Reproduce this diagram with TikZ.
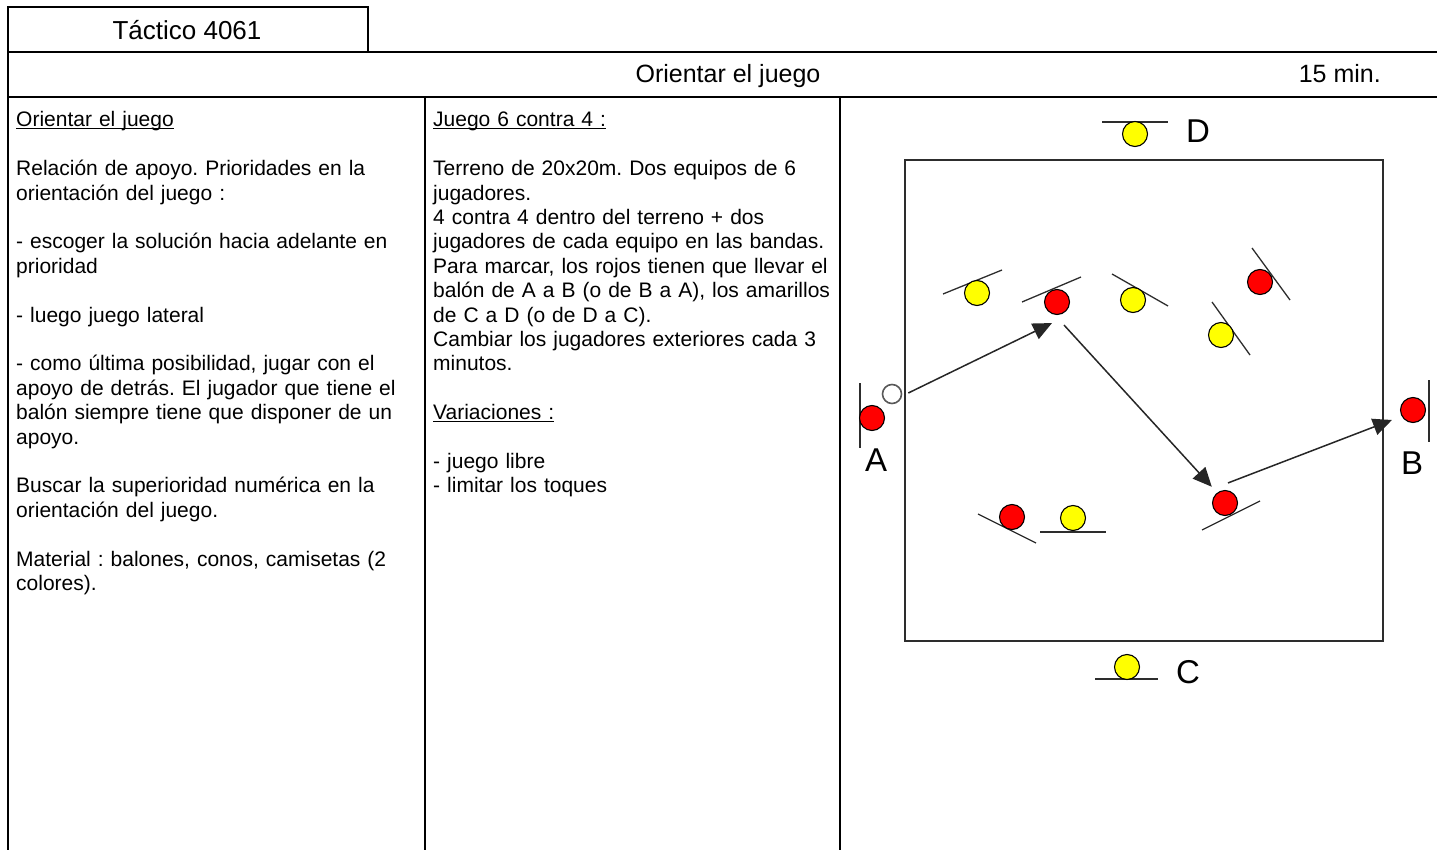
\documentclass[tikz,border=0pt]{standalone}
\usepackage{fontspec}
\setmainfont{Liberation Sans}
\usetikzlibrary{arrows.meta,positioning}
\definecolor{rojo}{RGB}{255,0,0}
\definecolor{amarillo}{RGB}{255,255,0}
\definecolor{campo}{RGB}{45,45,45}
\newcommand\subrayado[1]{\leavevmode\setbox0\hbox{#1}\rlap{\rule[-2.5pt]{\wd0}{1.2pt}}\box0}
\frenchspacing

\begin{document}
\begin{tikzpicture}[x=1pt,y=-1pt,
    marco/.style={line width=2pt,black},
    texto/.style={anchor=base west,inner sep=0pt,align=left,text width=405pt,font=\fontsize{21}{24.4}\selectfont},
    jugador/.style={circle,draw=black,line width=1.1pt,minimum size=25pt,inner sep=0pt},
    orient/.style={line width=1.3pt,campo},
    pase/.style={line width=1.5pt,black!85,-{Triangle[length=19pt,width=17pt]}},
    letra/.style={inner sep=0pt,font=\fontsize{33}{33}\selectfont}]
    \useasboundingbox (0,0) rectangle (1437,850);

    % Frame
    \draw[marco] (8,850) -- (8,7) -- (368,7) -- (368,52);
    \draw[marco] (8,52) -- (1437,52);
    \draw[marco] (8,97) -- (1437,97);
    \draw[marco] (425,97) -- (425,850);
    \draw[marco] (840,97) -- (840,850);

    % Headings
    \node[anchor=base,inner sep=0pt,font=\fontsize{26}{30}\selectfont] (titulo) at (187,40) {Táctico 4061};
    \node[anchor=base,inner sep=0pt,font=\fontsize{25}{30}\selectfont] (tema) at (728,83) {Orientar el juego};
    \node[anchor=base east,inner sep=0pt,font=\fontsize{25}{30}\selectfont] (duracion) at (1381,83) {15 min.};

    % Text columns
    \node[texto] (objetivo) at (16,127) {\subrayado{Orientar el juego}\\[24.4pt]
        Relación de apoyo. Prioridades en la\\
        orientación del juego :\\[24.4pt]
        - escoger la solución hacia adelante en\\
        prioridad\\[24.4pt]
        - luego juego lateral\\[24.4pt]
        - como última posibilidad, jugar con el\\
        apoyo de detrás. El jugador que tiene el\\
        balón siempre tiene que disponer de un\\
        apoyo.\\[24.4pt]
        Buscar la superioridad numérica en la\\
        orientación del juego.\\[24.4pt]
        Material : balones, conos, camisetas (2\\
        colores).};
    \node[texto] (juego) at (433,127) {\subrayado{Juego 6 contra 4 :}\\[24.4pt]
        Terreno de 20x20m. Dos equipos de 6\\
        jugadores.\\
        4 contra 4 dentro del terreno + dos\\
        jugadores de cada equipo en las bandas.\\
        Para marcar, los rojos tienen que llevar el\\
        balón de A a B (o de B a A), los amarillos\\
        de C a D (o de D a C).\\
        Cambiar los jugadores exteriores cada 3\\
        minutos.\\[24.4pt]
        \subrayado{Variaciones :}\\[24.4pt]
        - juego libre\\
        - limitar los toques};

    % Field
    \draw[line width=2pt,campo] (905,160) rectangle (1383,641);

    % Players with body orientation
    \foreach \n/\px/\py/\c/\ax/\ay/\bx/\by in {
        pD/1135/134/amarillo/1102/122/1168/122,
        pA1/977/293/amarillo/943/294/1002/270,
        pR1/1057/302/rojo/1022/302/1081/277,
        pA2/1133/300/amarillo/1112/274/1168/306,
        pR2/1260/282/rojo/1252/248/1290/300,
        pA3/1221/335/amarillo/1212/302/1250/355,
        pR3/1225/503/rojo/1202/530/1260/501,
        pR4/1012/517/rojo/978/514/1036/543,
        pA4/1073/518/amarillo/1040/532/1106/532,
        pC/1127/667/amarillo/1095/679/1158/679,
        pRA/872/418/rojo/860/383/860/448,
        pRB/1413/410/rojo/1429/380/1429/442}
    {
        \draw[orient] (\ax,\ay) -- (\bx,\by);
        \node[jugador,fill=\c] (\n) at (\px,\py) {};
    }

    % Ball
    \node[circle,draw=black!65,line width=1.6pt,fill=white,minimum size=19pt,inner sep=0pt] (balon) at (892,394) {};

    % Passes
    \draw[pase] ([xshift=6pt,yshift=1pt]balon.east) -- ([xshift=-5pt,yshift=-8pt]pR1.south);
    \draw[pase] ([xshift=7pt,yshift=-10pt]pR1.south) -- ([xshift=-4pt,yshift=7pt]pR3.north west);
    \draw[pase] ([xshift=3pt,yshift=7pt]pR3.north) -- ([xshift=-8pt,yshift=-10pt]pRB.west);

    % Goal labels
    \node[letra] (lA) at (876,460) {A};
    \node[letra] (lB) at (1412,463) {B};
    \node[letra] (lC) at (1188,672) {C};
    \node[letra] (lD) at (1198,131) {D};
\end{tikzpicture}
\end{document}
